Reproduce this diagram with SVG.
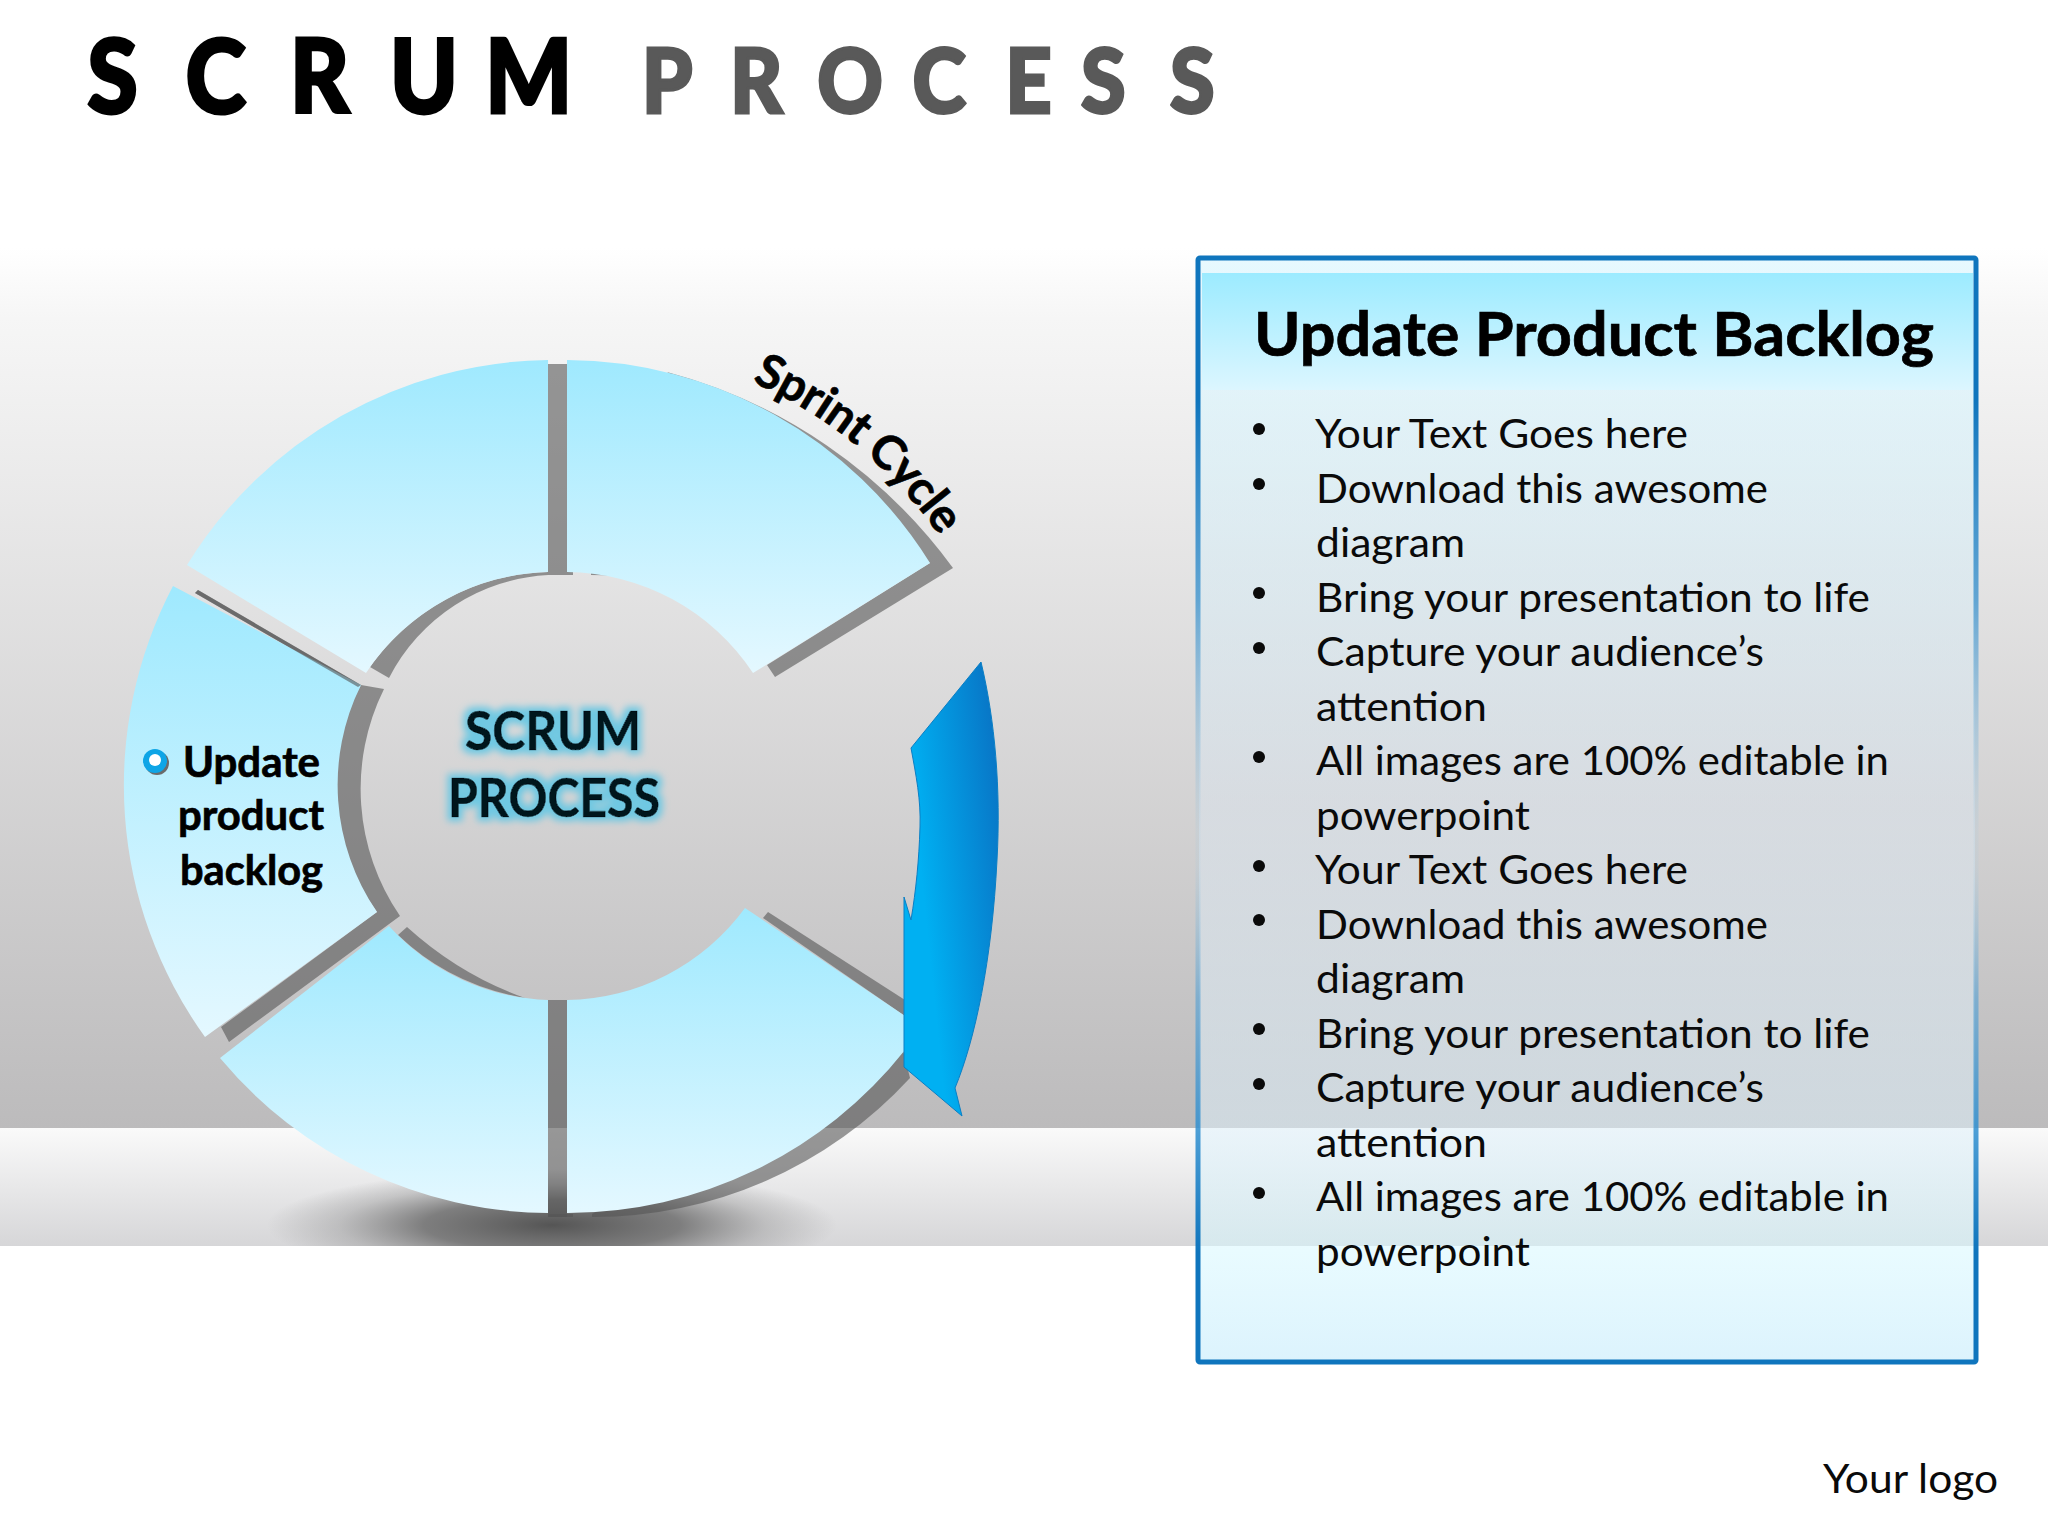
<svg xmlns="http://www.w3.org/2000/svg" xmlns:xlink="http://www.w3.org/1999/xlink" width="2048" height="1536" viewBox="0 0 2048 1536">
<style>
.body{font-family:Lato,"Open Sans",sans-serif;font-size:41px;fill:#0a0a0a}
.b{font-family:Lato,"Open Sans",sans-serif;font-weight:700;fill:#000;stroke:#000;stroke-width:.7px}
.seg{fill:url(#segG)}
.shade{fill:#555;fill-opacity:.6}
</style>
<defs>
<linearGradient id="bgG" x1="0" y1="0" x2="0" y2="1"><stop offset="0" stop-color="#fff"/><stop offset=".08" stop-color="#f6f6f6"/><stop offset="1" stop-color="#bcbbbc"/></linearGradient>
<linearGradient id="floorG" x1="0" y1="0" x2="0" y2="1"><stop offset="0" stop-color="#fafafa"/><stop offset="1" stop-color="#d6d6d8"/></linearGradient>
<linearGradient id="segG" x1="0" y1="0" x2="0" y2="1"><stop offset="0" stop-color="#9fe9fe"/><stop offset="1" stop-color="#e4f8ff"/></linearGradient>
<linearGradient id="arrowG" x1="1" y1="0.3" x2="0.2" y2="0.7"><stop offset="0" stop-color="#0878c8"/><stop offset=".9" stop-color="#00b0f2"/></linearGradient>
<linearGradient id="headG" x1="0" y1="0" x2="0" y2="1"><stop offset="0" stop-color="#9cebff"/><stop offset="1" stop-color="#dcf6ff"/></linearGradient>
<linearGradient id="panelG" gradientUnits="userSpaceOnUse" x1="0" y1="256" x2="0" y2="1363"><stop offset="0" stop-color="rgb(213,245,255)"/><stop offset=".13" stop-color="rgb(213,245,255)"/><stop offset=".49" stop-color="rgb(218,227,236)"/><stop offset=".788" stop-color="rgb(222,240,250)"/><stop offset=".898" stop-color="rgb(215,248,255)"/><stop offset="1" stop-color="rgb(191,233,251)"/></linearGradient>
<linearGradient id="borderG" gradientUnits="userSpaceOnUse" x1="0" y1="256" x2="0" y2="1363"><stop offset="0" stop-color="#0f75bd"/><stop offset=".13" stop-color="#0f75bd"/><stop offset=".31" stop-color="#2a8acb" stop-opacity=".7"/><stop offset=".52" stop-color="#9cc7e0" stop-opacity=".15"/><stop offset=".55" stop-color="#9cc7e0" stop-opacity=".15"/><stop offset=".67" stop-color="#5aa2d2" stop-opacity=".65"/><stop offset=".79" stop-color="#2f8fd0" stop-opacity=".85"/><stop offset=".9" stop-color="#0f75bd"/><stop offset="1" stop-color="#0f75bd"/></linearGradient>
<radialGradient id="shadowG"><stop offset="0" stop-color="#555"/><stop offset=".45" stop-color="#666" stop-opacity=".8"/><stop offset=".75" stop-color="#777" stop-opacity=".3"/><stop offset="1" stop-color="#777" stop-opacity="0"/></radialGradient>
<clipPath id="floorClip"><rect x="0" y="1128" width="2048" height="118"/></clipPath>
<filter id="glow" x="-15%" y="-30%" width="130%" height="160%"><feMorphology in="SourceAlpha" operator="dilate" radius="4" result="d"/><feGaussianBlur in="d" stdDeviation="3.5" result="b"/><feFlood flood-color="#6fc8e2"/><feComposite in2="b" operator="in" result="c"/><feMerge><feMergeNode in="c"/><feMergeNode in="SourceGraphic"/></feMerge></filter>
<path id="sprintArc" d="M752 382A440 440 0 0 1 950 552"/>
</defs>
<g id="background">
<rect width="2048" height="1536" fill="#fff"/>
<rect y="248" width="2048" height="880" fill="url(#bgG)"/>
<rect y="1128" width="2048" height="118" fill="url(#floorG)"/>
<ellipse cx="552" cy="1225" rx="285" ry="56" fill="url(#shadowG)" clip-path="url(#floorClip)"/>
</g>
<text id="title-scrum" class="b" font-size="102" transform="scale(.9 1)" y="113" x="97 206 322 433 539" style="font-weight:900;stroke-width:3px">SCRUM</text>
<text id="title-process" class="b" font-size="90" transform="scale(.9 1)" y="113" x="713 811 908 1014 1117 1201 1300" style="fill:#595959;stroke:#595959;font-weight:900;stroke-width:3px">PROCESS</text>
<g id="ring">
<g id="segment-top-left">
<path class="shade" d="M548 571H573V575H548A190 190 0 0 0 389 678L370 667A225 225 0 0 1 548 572Z"/>
<path class="seg" d="M548 360V572A225 225 0 0 0 366 673L187 565A430 430 0 0 1 548 360Z"/>
</g>
<g id="segment-top-right">
<path class="shade" d="M667 372A520 520 0 0 1 953 568L775 677 767 665 930 563Z"/>
<path class="shade" d="M591 572Q606 573 618 576Q604 575 591 575Z"/>
<path class="seg" d="M567 360A430 430 0 0 1 930 563L753 673A225 225 0 0 0 567 572Z"/>
<rect x="548" y="364" width="19" height="207" fill="#555" fill-opacity=".6"/>
</g>
<g id="segment-left">
<path class="shade" d="M195 593 198 590 361 685 384 689A225 225 0 0 0 400 916L229 1042 221 1027 377 912 300 800 361 685 358 687Z"/>
<path class="seg" d="M173 586 361 685A225 225 0 0 0 377 912L205 1037A430 430 0 0 1 173 586Z"/>
<path class="shade" d="M195 593 198 590 361 685 358 687Z"/>
<text class="b" font-size="42" x="183" y="777" textLength="137" lengthAdjust="spacingAndGlyphs">Update</text>
<text class="b" font-size="42" x="178" y="830" textLength="146" lengthAdjust="spacingAndGlyphs">product</text>
<text class="b" font-size="42" x="180" y="885" textLength="143" lengthAdjust="spacingAndGlyphs">backlog</text>
<circle cx="157" cy="763" r="12" fill="#6b6b6b"/>
<circle cx="155" cy="761" r="12" fill="#0ea5e6"/>
<circle cx="155" cy="760" r="6" fill="#fff"/>
</g>
<g id="segment-bottom-left">
<rect x="548" y="1000" width="19" height="217" fill="#555" fill-opacity=".6"/>
<path class="shade" d="M407 927 398 935Q450 985 525 998Q460 975 407 927Z"/>
<path class="shade" d="M500 1208Q525 1214 548 1214V1217H573V1214H548Q525 1214 500 1208Z"/>
<path class="seg" d="M389 926A225 225 0 0 0 548 1000V1213A430 430 0 0 1 220 1058Z"/>
</g>
<g id="segment-bottom-right">
<path class="shade" d="M763 918 768 912 905 1000V1016Z"/>
<path class="shade" d="M592 1217A430 430 0 0 0 910 1078L903 1050 592 1214Z"/>
<path class="seg" d="M567 1000A225 225 0 0 0 745 908L905 1016V1050A430 430 0 0 1 567 1213Z"/>
</g>
<g id="center-label">
<text class="b" font-size="54" x="465" y="750" textLength="176" lengthAdjust="spacingAndGlyphs" filter="url(#glow)" style="fill:#04121c">SCRUM</text>
<text class="b" font-size="54" x="448" y="817" textLength="212" lengthAdjust="spacingAndGlyphs" filter="url(#glow)" style="fill:#04121c">PROCESS</text>
</g>
</g>
<g id="connectors">
<path id="cycle-arrow" d="M981 662 911 748C916 775 921 800 920 827 919 860 916 890 911 920L904 897 904 1067 962 1116 955 1088C975 1040 992 960 997 860 1001 790 995 720 981 662Z" fill="url(#arrowG)" stroke="#0a7fc5" stroke-width="1"/>
<text class="b" font-size="47"><textPath xlink:href="#sprintArc" href="#sprintArc" textLength="246" lengthAdjust="spacing">Sprint Cycle</textPath></text>
</g>
<g id="panel">
<rect x="1199" y="259" width="776" height="1101" fill="url(#panelG)" fill-opacity=".55"/>
<rect x="1202" y="273" width="771" height="117" fill="url(#headG)"/>
<rect x="1198" y="258" width="778" height="1104" rx="2" fill="none" stroke="url(#borderG)" stroke-width="5"/>
<text class="b" font-size="62" x="1254" y="356" textLength="680" lengthAdjust="spacingAndGlyphs">Update Product Backlog</text>
<g class="body" fill="#000">
<circle cx="1259" cy="429" r="6"/><circle cx="1259" cy="484" r="6"/><circle cx="1259" cy="593" r="6"/><circle cx="1259" cy="648" r="6"/><circle cx="1259" cy="757" r="6"/><circle cx="1259" cy="866" r="6"/><circle cx="1259" cy="920" r="6"/><circle cx="1259" cy="1029" r="6"/><circle cx="1259" cy="1084" r="6"/><circle cx="1259" cy="1193" r="6"/>
<text class="body" x="1315" y="448" textLength="373" lengthAdjust="spacingAndGlyphs">Your Text Goes here</text>
<text class="body" x="1316" y="503" textLength="452" lengthAdjust="spacingAndGlyphs">Download this awesome</text>
<text class="body" x="1316" y="557" textLength="149" lengthAdjust="spacingAndGlyphs">diagram</text>
<text class="body" x="1316" y="612" textLength="554" lengthAdjust="spacingAndGlyphs">Bring your presentation to life</text>
<text class="body" x="1316" y="666" textLength="448" lengthAdjust="spacingAndGlyphs">Capture your audience’s</text>
<text class="body" x="1316" y="721" textLength="171" lengthAdjust="spacingAndGlyphs">attention</text>
<text class="body" x="1316" y="775" textLength="573" lengthAdjust="spacingAndGlyphs">All images are 100% editable in</text>
<text class="body" x="1316" y="830" textLength="214" lengthAdjust="spacingAndGlyphs">powerpoint</text>
<text class="body" x="1315" y="884" textLength="373" lengthAdjust="spacingAndGlyphs">Your Text Goes here</text>
<text class="body" x="1316" y="939" textLength="452" lengthAdjust="spacingAndGlyphs">Download this awesome</text>
<text class="body" x="1316" y="993" textLength="149" lengthAdjust="spacingAndGlyphs">diagram</text>
<text class="body" x="1316" y="1048" textLength="554" lengthAdjust="spacingAndGlyphs">Bring your presentation to life</text>
<text class="body" x="1316" y="1102" textLength="448" lengthAdjust="spacingAndGlyphs">Capture your audience’s</text>
<text class="body" x="1316" y="1157" textLength="171" lengthAdjust="spacingAndGlyphs">attention</text>
<text class="body" x="1316" y="1211" textLength="573" lengthAdjust="spacingAndGlyphs">All images are 100% editable in</text>
<text class="body" x="1316" y="1266" textLength="214" lengthAdjust="spacingAndGlyphs">powerpoint</text>
</g>
</g>
<text id="logo" class="body" x="1823" y="1493" textLength="175" lengthAdjust="spacingAndGlyphs">Your logo</text>
</svg>
